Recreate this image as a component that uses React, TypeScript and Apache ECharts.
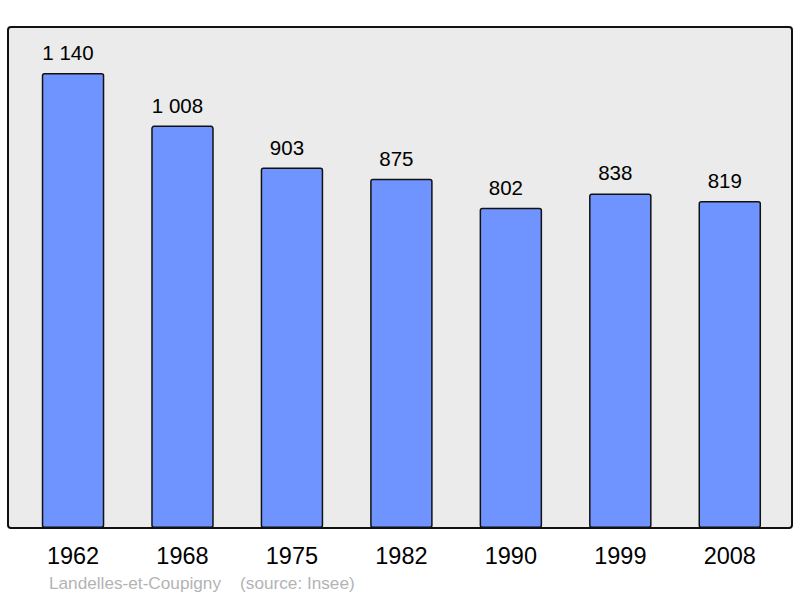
import React, {useRef, useEffect} from 'react';
import * as echarts from 'echarts';

const years = ['1962', '1968', '1975', '1982', '1990', '1999', '2008'];
const population = [1140, 1008, 903, 875, 802, 838, 819];
const footer = 'Landelles-et-Coupigny    (source: Insee)';

const formatValue = (v: number) => String(v).replace(/\B(?=(\d{3})+(?!\d))/g, ' ');

const App = () => {
    const ref = useRef<HTMLDivElement>(null);

    useEffect(() => {
        const chart = echarts.init(ref.current as HTMLDivElement, null, {renderer: 'svg'});
        chart.setOption({
            animation: false,
            textStyle: {fontFamily: '"Liberation Sans", Arial, sans-serif'},
            grid: {left: 18.3, right: 15.5, top: 27, bottom: 70},
            graphic: [
                {
                    type: 'rect',
                    z: -10,
                    shape: {x: 8, y: 27, width: 784, height: 501, r: 3},
                    style: {fill: '#ebebeb', stroke: '#111', lineWidth: 2}
                },
                {
                    type: 'text',
                    left: 49,
                    top: 574,
                    style: {
                        text: footer,
                        fill: '#b3b3b3',
                        fontSize: 17.2,
                        fontFamily: '"Liberation Sans", Arial, sans-serif'
                    }
                }
            ],
            xAxis: {
                type: 'category',
                data: years,
                axisLine: {show: false},
                axisTick: {show: false},
                axisLabel: {color: '#000', fontSize: 23.5, margin: 16}
            },
            yAxis: {
                type: 'value',
                min: 0,
                max: 1255,
                show: false,
                splitLine: {show: false}
            },
            series: [
                {
                    type: 'bar',
                    data: population,
                    barWidth: 62.5,
                    itemStyle: {color: '#7094ff', borderColor: '#111', borderWidth: 1.5, borderRadius: 2},
                    label: {
                        show: true,
                        position: 'top',
                        distance: 10,
                        offset: [-5, 0],
                        color: '#000',
                        fontSize: 20.5,
                        formatter: (p: any) => formatValue(p.value)
                    }
                }
            ]
        });
        return () => chart.dispose();
    }, []);

    return <div ref={ref} style={{position: 'fixed', left: 0, top: 0, width: 800, height: 598, background: '#fff'}}></div>;
};

export default App;
